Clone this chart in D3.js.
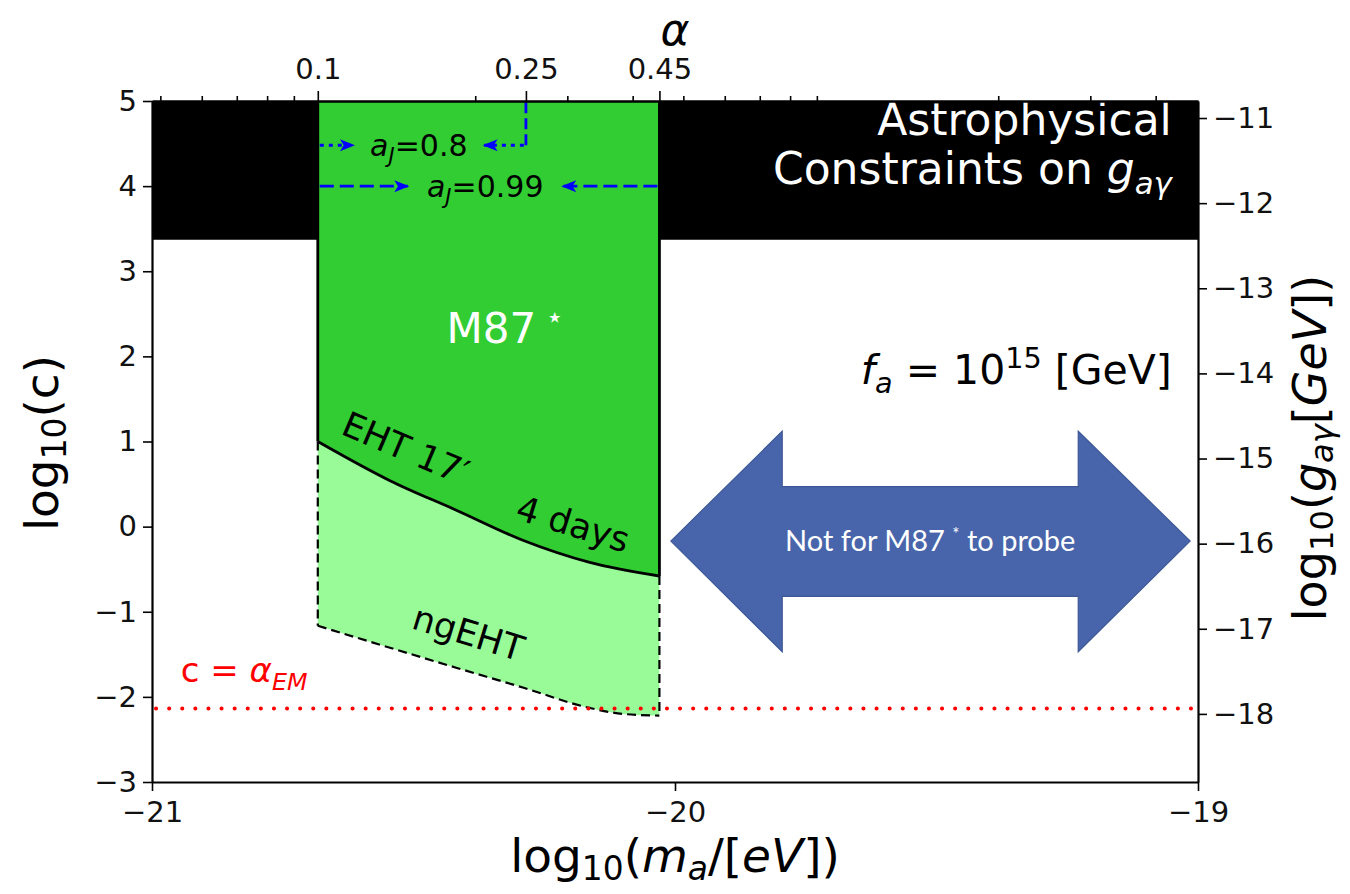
<!DOCTYPE html>
<html>
<head>
<meta charset="utf-8">
<script src="https://cdn.jsdelivr.net/npm/d3@7"></script>
<style>
  body { margin: 0; background: #fff; }
  svg text { font-family: "DejaVu Sans", sans-serif; }
</style>
</head>
<body>
<div id="chart"></div>
<script>
// log10(m_a) at which alpha = 0.1
var LOGM_ALPHA01 = -20.683;
// log10(g) = log10(c) + G_OFFSET
var G_OFFSET = -15.8;

var xTicks = [-21, -20, -19];
var yTicks = [-3, -2, -1, 0, 1, 2, 3, 4, 5];
var gTicks = [-18, -17, -16, -15, -14, -13, -12, -11];
var alphaTicks = [0.1, 0.25, 0.45];
var alphaMinor = [0.05, 0.06, 0.07, 0.08, 0.09, 0.2, 0.3, 0.4, 0.5, 0.6, 0.7, 0.8, 0.9, 2, 3, 4];

// M87* superradiance window in alpha
var alphaWindow = [0.1, 0.45];
// astrophysical constraint: log10(c) above this
var astroLimit = 3.37;
// c = alpha_EM
var alphaEM = Math.log10(1 / 137);

// EHT 17' 4 days curve [log10(m_a), log10(c)]
var ehtCurve = [[-20.683, 1.0], [-20.545, 0.54], [-20.417, 0.19], [-20.291, -0.16], [-20.163, -0.42], [-20.030, -0.58]];
// ngEHT curve
var ngehtCurve = [[-20.683, -1.165], [-20.417, -1.66], [-20.291, -1.89], [-20.163, -2.13], [-20.100, -2.20], [-20.030, -2.22]];

// spin lines: c level, alpha range, arrow tips (alpha)
var spinLines = [
  { label: "0.8", c: 4.48, from: 0.1, to: 0.25, tipR: 0.117, tipL: 0.208, dash: "4,5", up: true },
  { label: "0.99", c: 4.0, from: 0.1, to: 0.45, tipR: 0.1486, tipL: 0.294, dash: "14,6", up: false }
];

// double arrow outline [log10(m_a), log10(c)]
var bigArrow = [[-20.008, -0.17], [-19.795, 1.12], [-19.795, 0.47], [-19.229, 0.47], [-19.229, 1.12],
  [-19.015, -0.17], [-19.229, -1.47], [-19.229, -0.82], [-19.795, -0.82], [-19.795, -1.47]];

var W = 1350, H = 894;
var margin = { left: 152, right: 152, top: 101, bottom: 112 };

var svg = d3.select("#chart").append("svg").attr("width", W).attr("height", H);

var x = d3.scaleLinear().domain([-21, -19]).range([margin.left, W - margin.right]);
var y = d3.scaleLinear().domain([-3, 5]).range([H - margin.bottom, margin.top]);
var yG = d3.scaleLinear().domain([-3 + G_OFFSET, 5 + G_OFFSET]).range(y.range());
function alphaOf(lm) { return 0.1 * Math.pow(10, lm - LOGM_ALPHA01); }
function lmOf(a) { return Math.log10(a / 0.1) + LOGM_ALPHA01; }
var xa = d3.scaleLog().domain([alphaOf(-21), alphaOf(-19)]).range(x.range());

var defs = svg.append("defs");
defs.append("clipPath").attr("id", "plot").append("rect")
  .attr("x", x(-21)).attr("y", y(5)).attr("width", x(-19) - x(-21)).attr("height", y(-3) - y(5));
defs.append("marker").attr("id", "tip").attr("viewBox", "0 0 10 10")
  .attr("refX", 9).attr("refY", 5).attr("markerWidth", 17).attr("markerHeight", 15)
  .attr("markerUnits", "userSpaceOnUse").attr("orient", "auto")
  .append("path").attr("d", "M0,1 L10,5 L0,9 L2.5,5 Z").attr("fill", "#0000ff");

var main = svg.append("g").attr("clip-path", "url(#plot)");

// astrophysical band
main.append("rect")
  .attr("x", x(-21)).attr("y", y(5))
  .attr("width", x(-19) - x(-21)).attr("height", y(astroLimit) - y(5))
  .attr("fill", "#000");

var xl = x(lmOf(alphaWindow[0])), xr = x(lmOf(alphaWindow[1]));
var curve = d3.line().x(function (d) { return x(d[0]); }).y(function (d) { return y(d[1]); }).curve(d3.curveMonotoneX);

// ngEHT band
main.append("path")
  .attr("d", curve(ehtCurve) + "L" + curve(ngehtCurve.slice().reverse()).slice(1) + "Z")
  .attr("fill", "#98fb98");

// EHT excluded region
main.append("path")
  .attr("d", "M" + xl + "," + y(5) + "L" + curve(ehtCurve).slice(1) + "L" + xr + "," + y(5) + "Z")
  .attr("fill", "#32cd32");

// outlines
main.append("path").attr("d", curve(ehtCurve)).attr("fill", "none").attr("stroke", "#000").attr("stroke-width", 2.8);
main.append("path").attr("d", curve(ngehtCurve)).attr("fill", "none").attr("stroke", "#000").attr("stroke-width", 2.2)
  .attr("stroke-dasharray", "9,5");
main.append("line").attr("x1", xl).attr("x2", xl).attr("y1", y(5)).attr("y2", y(ehtCurve[0][1]))
  .attr("stroke", "#000").attr("stroke-width", 2.8);
main.append("line").attr("x1", xr).attr("x2", xr).attr("y1", y(5)).attr("y2", y(ehtCurve[ehtCurve.length - 1][1]))
  .attr("stroke", "#000").attr("stroke-width", 2.8);
main.append("line").attr("x1", xl).attr("x2", xl).attr("y1", y(ehtCurve[0][1])).attr("y2", y(ngehtCurve[0][1]))
  .attr("stroke", "#000").attr("stroke-width", 2.2).attr("stroke-dasharray", "9,5");
main.append("line").attr("x1", xr).attr("x2", xr).attr("y1", y(ehtCurve[ehtCurve.length - 1][1])).attr("y2", y(ngehtCurve[ngehtCurve.length - 1][1]))
  .attr("stroke", "#000").attr("stroke-width", 2.2).attr("stroke-dasharray", "9,5");

// alpha_EM line
main.append("line").attr("x1", x(-21) + 4).attr("x2", x(-19)).attr("y1", y(alphaEM)).attr("y2", y(alphaEM))
  .attr("stroke", "#ff0000").attr("stroke-width", 4).attr("stroke-linecap", "round")
  .attr("stroke-dasharray", "0.1,13");

function rich(sel, parts, size, subShift) {
  var shift = 0, sb = subShift || 0.22;
  parts.forEach(function (p) {
    var target = p.sub ? sb * size : p.sup ? -0.38 * size : 0;
    var ts = sel.append("tspan").attr("dy", target - shift).text(p.t);
    if (p.sub || p.sup) ts.attr("font-size", size * 0.7);
    if (p.it) ts.attr("font-style", "italic");
    shift = target;
  });
}

// spin lines with arrows
spinLines.forEach(function (s) {
  var yy = y(s.c);
  main.append("line").attr("x1", xa(s.from) + 2).attr("x2", xa(s.tipR)).attr("y1", yy).attr("y2", yy)
    .attr("stroke", "#0000ff").attr("stroke-width", 2.8).attr("stroke-dasharray", s.dash).attr("marker-end", "url(#tip)");
  main.append("line").attr("x1", xa(s.to) - 2).attr("x2", xa(s.tipL)).attr("y1", yy).attr("y2", yy)
    .attr("stroke", "#0000ff").attr("stroke-width", 2.8).attr("stroke-dasharray", s.dash).attr("marker-end", "url(#tip)");
  if (s.up) {
    main.append("line").attr("x1", xa(s.to)).attr("x2", xa(s.to)).attr("y1", yy).attr("y2", y(5))
      .attr("stroke", "#0000ff").attr("stroke-width", 2.8).attr("stroke-dasharray", "11,5");
  }
  var t = main.append("text").attr("x", (xa(s.tipR) + xa(s.tipL)) / 2).attr("y", yy + 11)
    .attr("text-anchor", "middle").attr("font-size", 30).attr("fill", "#000");
  rich(t, [{ t: "a", it: 1 }, { t: "J", it: 1, sub: 1 }, { t: "=" + s.label }], 30);
});

// big double arrow
svg.append("path")
  .attr("d", d3.line().x(function (d) { return x(d[0]); }).y(function (d) { return y(d[1]); })(bigArrow) + "Z")
  .attr("fill", "#4865ab").attr("stroke", "#3d5896").attr("stroke-width", 1.2);
var at = svg.append("text").attr("x", x(-19.512)).attr("y", y(-0.17) + 10).attr("text-anchor", "middle")
  .attr("fill", "#fff").style("font-family", "Lato, 'Open Sans', sans-serif").attr("font-size", 29);
at.append("tspan").text("Not for M87 ");
at.append("tspan").attr("dy", -11).attr("font-size", 17).text("*");
at.append("tspan").attr("dy", 11).text(" to probe");

// annotations
svg.append("text").attr("x", x(-19.05)).attr("y", y(4.6)).attr("text-anchor", "end")
  .attr("font-size", 44).attr("fill", "#fff").text("Astrophysical");
var t2 = svg.append("text").attr("x", x(-19.05)).attr("y", y(4.02)).attr("text-anchor", "end")
  .attr("font-size", 44).attr("fill", "#fff");
rich(t2, [{ t: "Constraints on " }, { t: "g", it: 1 }, { t: "aγ", it: 1, sub: 1 }], 44);

var t3 = svg.append("text").attr("x", x(-20.437)).attr("y", y(2.16)).attr("text-anchor", "start")
  .attr("font-size", 42).attr("fill", "#fff");
rich(t3, [{ t: "M87" }, { t: " ⋆", sup: 1 }], 42);

var t4 = svg.append("text").attr("x", x(-19.05)).attr("y", y(1.68)).attr("text-anchor", "end")
  .attr("font-size", 41).attr("fill", "#000");
rich(t4, [{ t: "f", it: 1 }, { t: "a", it: 1, sub: 1 }, { t: " = 10" }, { t: "15", sup: 1 }, { t: " [GeV]" }], 41);

function rotText(lm, c, angle, str) {
  svg.append("text").attr("transform", "translate(" + x(lm) + "," + y(c) + ") rotate(" + angle + ")")
    .attr("text-anchor", "middle").attr("dy", "0.35em").attr("font-size", 35).attr("fill", "#000").text(str);
}
rotText(-20.515, 0.92, 23, "EHT 17′");
rotText(-20.195, 0.03, 17, "4 days");
rotText(-20.395, -1.25, 17, "ngEHT");

var t5 = svg.append("text").attr("x", x(-20.945)).attr("y", y(-1.83)).attr("font-size", 34).attr("fill", "#ff0000");
rich(t5, [{ t: "c = " }, { t: "α", it: 1 }, { t: "EM", it: 1, sub: 1 }], 34);

// axes
function styleAxis(g) {
  g.selectAll("path").attr("stroke", "#000").attr("stroke-width", 2.2);
  g.selectAll("line").attr("stroke", "#000").attr("stroke-width", 1.6);
  g.selectAll("text").attr("font-size", 29).attr("fill", "#111").style("font-family", "DejaVu Sans");
}
svg.append("g").attr("transform", "translate(0," + y(-3) + ")")
  .call(d3.axisBottom(x).tickValues(xTicks).tickSize(9).tickSizeOuter(0).tickPadding(10).tickFormat(d3.format("d")))
  .call(styleAxis);
svg.append("g").attr("transform", "translate(" + x(-21) + ",0)")
  .call(d3.axisLeft(y).tickValues(yTicks).tickSize(9).tickSizeOuter(0).tickPadding(6).tickFormat(d3.format("d")))
  .call(styleAxis);
svg.append("g").attr("transform", "translate(" + x(-19) + ",0)")
  .call(d3.axisRight(yG).tickValues(gTicks).tickSize(9).tickSizeOuter(0).tickPadding(6).tickFormat(d3.format("d")))
  .call(styleAxis);
svg.append("g").attr("transform", "translate(0," + y(5) + ")")
  .call(d3.axisTop(xa).tickValues(alphaMinor).tickSize(5).tickSizeOuter(0).tickFormat(""))
  .call(styleAxis);
svg.append("g").attr("transform", "translate(0," + y(5) + ")")
  .call(d3.axisTop(xa).tickValues(alphaTicks).tickSize(10).tickSizeOuter(0).tickPadding(12).tickFormat(d3.format("")))
  .call(styleAxis);

// axis labels
var lb = svg.append("text").attr("x", x(-20)).attr("y", 872).attr("text-anchor", "middle").attr("font-size", 47);
rich(lb, [{ t: "log" }, { t: "10", sub: 1 }, { t: "(" }, { t: "m", it: 1 }, { t: "a", it: 1, sub: 1 }, { t: "/[" }, { t: "eV", it: 1 }, { t: "])" }], 47, 0.17);
var ll = svg.append("text").attr("transform", "translate(58,443) rotate(-90)").attr("text-anchor", "middle").attr("font-size", 47);
rich(ll, [{ t: "log" }, { t: "10", sub: 1 }, { t: "(c)" }], 47, 0.17);
var lr = svg.append("text").attr("transform", "translate(1326,448) rotate(-90)").attr("text-anchor", "middle").attr("font-size", 46);
rich(lr, [{ t: "log" }, { t: "10", sub: 1 }, { t: "(" }, { t: "g", it: 1 }, { t: "aγ", it: 1, sub: 1 }, { t: "[" }, { t: "GeV", it: 1 }, { t: "])" }], 46, 0.15);
svg.append("text").attr("x", x(-20)).attr("y", 45).attr("text-anchor", "middle").attr("font-size", 44)
  .attr("font-style", "italic").text("α");
</script>
</body>
</html>
